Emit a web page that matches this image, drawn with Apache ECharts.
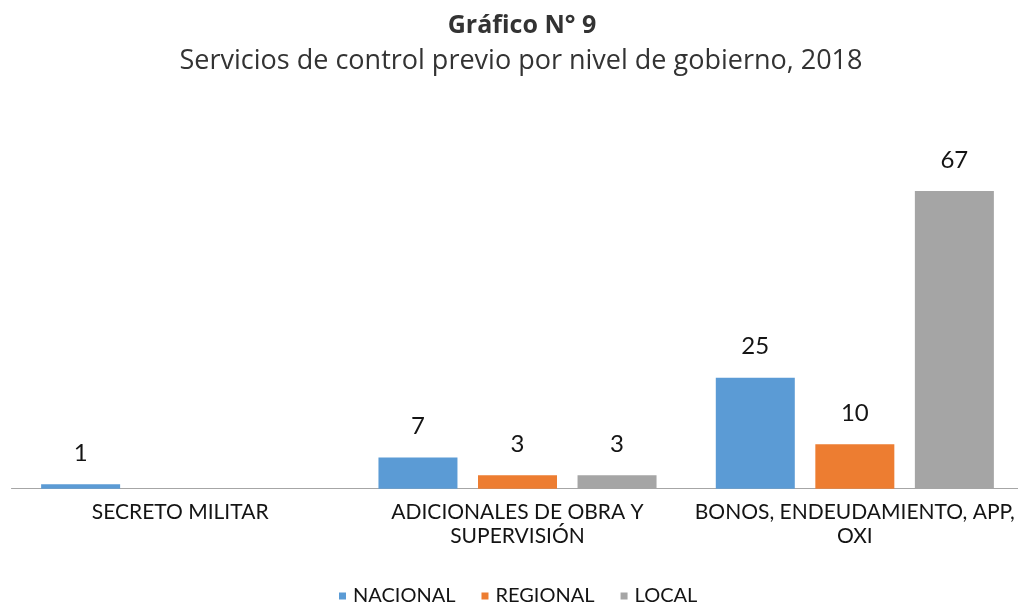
<!DOCTYPE html>
<html>
<head>
<meta charset="utf-8">
<script src="https://cdn.jsdelivr.net/npm/echarts@6/dist/echarts.min.js"></script>
<style>
html,body{margin:0;padding:0;background:#fff;}
#chart{width:1018px;height:602px;}
</style>
</head>
<body>
<div id="chart"></div>
<script>
const categories = ['SECRETO MILITAR', 'ADICIONALES DE OBRA Y\nSUPERVISIÓN', 'BONOS, ENDEUDAMIENTO, APP,\nOXI'];
const seriesNames = ['NACIONAL', 'REGIONAL', 'LOCAL'];
const nacional = [1, 7, 25];
const regional = [null, 3, 10];
const local = [null, 3, 67];
const colors = ['#5B9BD5', '#ED7D31', '#A5A5A5'];

const chart = echarts.init(document.getElementById('chart'), null, {renderer: 'canvas'});
const labelCfg = {
  show: true, position: 'top', distance: 19,
  fontFamily: 'Lato', fontSize: 24, color: '#141414'
};
const option = {
  animation: false,
  backgroundColor: '#fff',
  title: [
    {text: 'Gráfico N° 9', left: 517, textAlign: 'center', top: 8,
     textStyle: {fontFamily: 'Open Sans', fontWeight: 'bold', fontSize: 25, color: '#333333'}},
    {text: 'Servicios de control previo por nivel de gobierno, 2018', left: 516, textAlign: 'center', top: 43,
     textStyle: {fontFamily: 'Open Sans', fontWeight: 'normal', fontSize: 27, color: '#333333'}}
  ],
  color: colors,
  legend: {
    data: seriesNames, top: 581, left: 334,
    icon: 'rect', itemWidth: 7, itemHeight: 7, itemGap: 26,
    textStyle: {fontFamily: 'Lato', fontSize: 20, color: '#141414', padding: [0, 0, 0, 2]}
  },
  grid: {left: 11.5, width: 1012, top: 177.7, bottom: 113.3, containLabel: false, outerBoundsMode: 'none'},
  xAxis: {
    type: 'category', data: categories,
    axisLine: {show: true, lineStyle: {color: '#A6A6A6', width: 1}},
    axisTick: {show: false},
    axisLabel: {interval: 0, margin: 12, fontFamily: 'Lato', fontSize: 21, lineHeight: 24, color: '#141414'}
  },
  yAxis: {type: 'value', min: 0, max: 70, show: false, splitLine: {show: false}},
  series: [
    {name: seriesNames[0], type: 'bar', data: nacional, barWidth: 79, barGap: '26%', label: labelCfg},
    {name: seriesNames[1], type: 'bar', data: regional, barWidth: 79, barGap: '26%', label: labelCfg},
    {name: seriesNames[2], type: 'bar', data: local, barWidth: 79, barGap: '26%', label: labelCfg}
  ]
};
chart.setOption(option);
</script>
</body>
</html>
